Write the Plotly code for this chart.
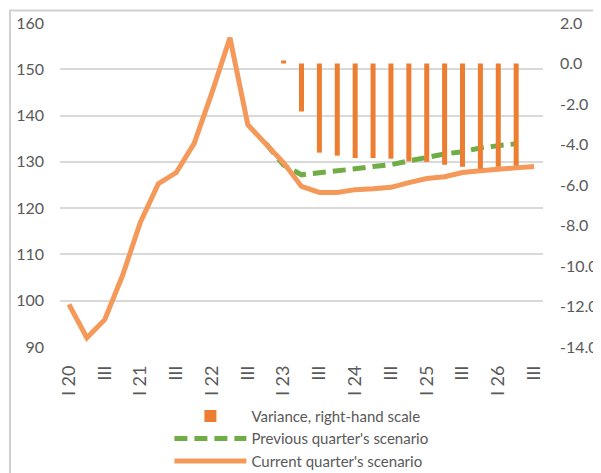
import plotly.graph_objects as go

# quarterly categories, I 20 .. III 26
years = ['20', '21', '22', '23', '24', '25', '26']
roman = ['I', 'II', 'III', 'IV']
quarters = [f'{q} {y}' for y in years for q in roman][:27]

# current quarter's scenario (left-hand scale), I 20 .. III 26
current = [99.2, 92.0, 95.9, 105.5, 117.0, 125.3, 127.7, 134.0, 145.0, 156.8,
           138.0, 134.0, 129.8, 124.7, 123.4, 123.4, 124.0, 124.2, 124.5, 125.5,
           126.4, 126.8, 127.7, 128.1, 128.5, 128.7, 129.0]

# previous quarter's scenario, IV 22 .. II 26
prev_quarters = quarters[11:26]
previous = [134.0, 129.3, 127.2, 127.6, 127.9, 128.5, 129.0, 129.4, 130.2,
            131.0, 131.7, 132.2, 133.0, 133.5, 133.9]

# variance (right-hand scale), I 23 .. II 26
var_quarters = quarters[12:26]
variance = [0.15, -2.37, -4.4, -4.55, -4.67, -4.67, -4.7, -4.83, -4.86,
            -5.0, -5.1, -5.2, -5.1, -5.05]

tick_q = quarters[::2]
tick_text = [q if q.startswith('I ') else 'III' for q in tick_q]

y2_vals = [2, 0, -2, -4, -6, -8, -10, -12, -14]
y2_text = ['2.0', '0.0', '-2.0', '-4.0', '-6.0', '-8.0', '-10.0', '-12.0', '-14.0']

grey = '#595959'
font = dict(family='Lato, Open Sans, sans-serif', size=16, color=grey)

fig = go.Figure()

fig.add_trace(go.Bar(
    x=var_quarters, y=variance, yaxis='y2',
    name='Variance, right-hand scale',
    marker=dict(color='#ED7D31', line=dict(width=0)),
))

fig.add_trace(go.Scatter(
    x=prev_quarters, y=previous, mode='lines',
    name="Previous quarter's scenario",
    line=dict(color='#70AD47', width=5, dash='13px,7px'),
))

fig.add_trace(go.Scatter(
    x=quarters, y=current, mode='lines',
    name="Current quarter's scenario",
    line=dict(color='#F4995A', width=5),
))

# the page body adds an 8px offset, so margins are shifted to compensate
fig.update_layout(
    width=601, height=473,
    margin=dict(l=52, r=66, t=14.5, b=133.5, autoexpand=False),
    paper_bgcolor='white', plot_bgcolor='white',
    font=font,
    bargap=0.72,
    showlegend=True,
    legend=dict(
        orientation='v', x=0.2265, xanchor='left', y=-0.163, yanchor='top',
        font=dict(size=15, color=grey), tracegroupgap=0,
        itemwidth=72, bgcolor='rgba(0,0,0,0)',
    ),
    xaxis=dict(
        type='category', categoryorder='array', categoryarray=quarters,
        range=[-0.5, 26.5], tickmode='array', tickvals=tick_q, ticktext=tick_text,
        tickangle=-90, showgrid=False, showline=False, ticks='',
        tickfont=dict(size=18, color=grey), ticklabelstandoff=14,
    ),
    yaxis=dict(
        range=[90, 160], dtick=10, showgrid=True, gridcolor='#D9D9D9',
        gridwidth=1.5, zeroline=False, showline=False, ticks='',
        ticklabelstandoff=15,
    ),
    yaxis2=dict(
        overlaying='y', side='right', range=[-14, 2],
        tickmode='array', tickvals=y2_vals, ticktext=y2_text,
        showgrid=False, zeroline=False, showline=False, ticks='',
        ticklabelstandoff=16,
    ),
    shapes=[dict(
        type='rect', xref='paper', yref='paper',
        x0=-0.1035, x1=1.16, y0=-0.42, y1=1.0385,
        line=dict(color='#D0D0D0', width=2), layer='above',
    )],
)

fig.write_html("out.html")
